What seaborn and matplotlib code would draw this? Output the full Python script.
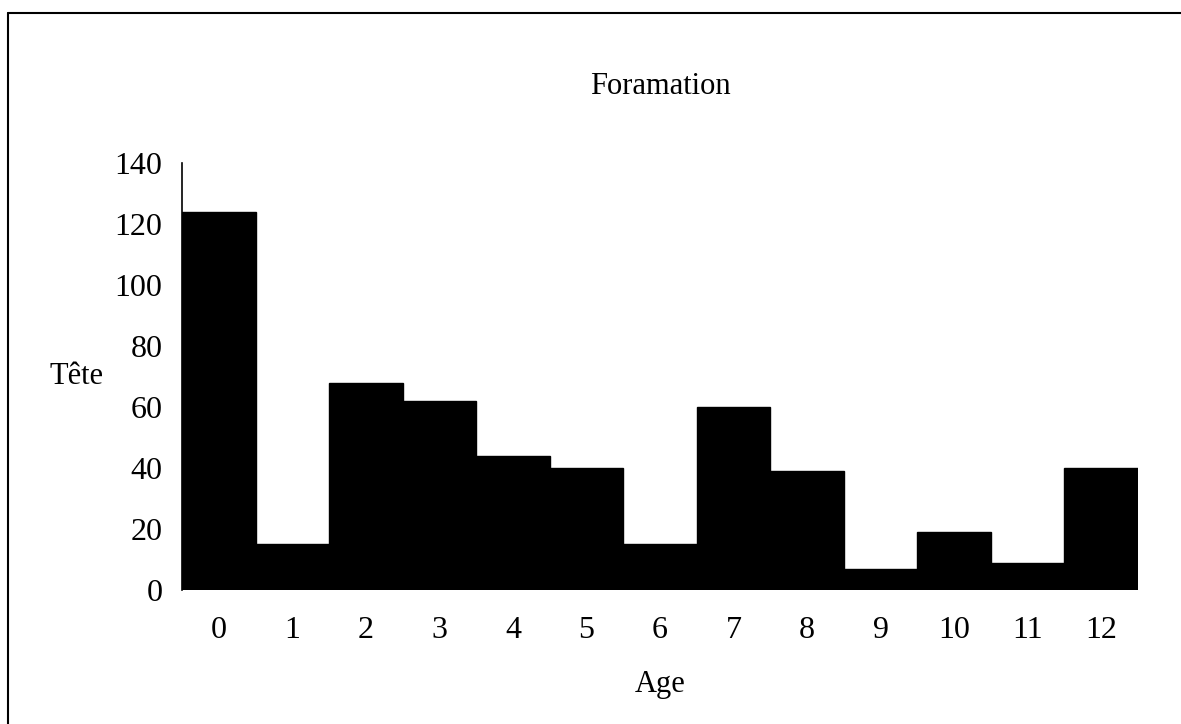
import matplotlib
matplotlib.use("Agg")
import matplotlib.pyplot as plt
import seaborn as sns
import pandas as pd
from matplotlib.lines import Line2D

ages = ["0", "1", "2", "3", "4", "5", "6", "7", "8", "9", "10", "11", "12"]
tetes = [124, 15, 68, 62, 44, 40, 15, 60, 39, 7, 19, 9, 40]
y_ticks = [0, 20, 40, 60, 80, 100, 120, 140]
title = "Foramation"
x_label = "Age"
y_label = "Tête"

df = pd.DataFrame({"Age": ages, "Tete": tetes})

sns.set_theme(style="white")
plt.rcParams["font.family"] = ["Liberation Serif", "DejaVu Serif"]

fig = plt.figure(figsize=(11.81, 7.24), dpi=100)
ax = fig.add_axes([0.1541, 0.1851, 0.8095, 0.5898])

sns.barplot(data=df, x="Age", y="Tete", order=ages, color="black",
            saturation=1, width=1.0, edgecolor="black", linewidth=1.0,
            errorbar=None, ax=ax)

ax.set_xlim(-0.5, 12.5)
ax.set_ylim(0, 140)
ax.set_yticks(y_ticks)
ax.set_yticklabels([str(v) for v in y_ticks])

for s in ["top", "right", "bottom"]:
    ax.spines[s].set_visible(False)
ax.spines["left"].set_color("black")
ax.spines["left"].set_linewidth(1.2)

ax.tick_params(axis="x", length=0, pad=19, labelsize=23, colors="black")
ax.tick_params(axis="y", length=0, pad=14, labelsize=23, colors="black")

ax.set_title(title, fontsize=22, pad=50, color="black")
ax.set_xlabel(x_label, fontsize=22, labelpad=18, color="black")
ax.set_ylabel(y_label, fontsize=22, rotation=0, ha="center", va="center", color="black")
ax.yaxis.set_label_coords(-0.11, 0.5)

# scanned page frame (top and left edges)
fig.add_artist(Line2D([0.007, 1.0], [0.982, 0.982], transform=fig.transFigure,
                      color="black", linewidth=1.5))
fig.add_artist(Line2D([0.007, 0.007], [0.0, 0.982], transform=fig.transFigure,
                      color="black", linewidth=1.5))

fig.savefig("out.png", dpi=100, facecolor="white")
